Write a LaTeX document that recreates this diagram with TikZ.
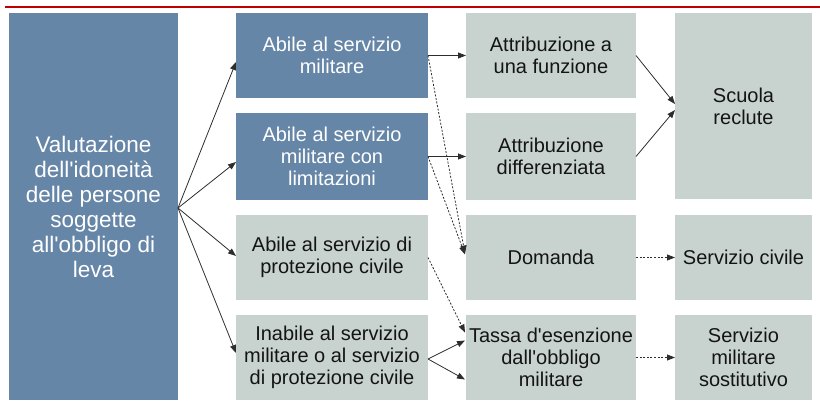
\documentclass[tikz,border=0pt]{standalone}
\usepackage{fontspec}
\setmainfont{Liberation Sans}[Ligatures=TeXOff]
\usetikzlibrary{arrows.meta,calc}
\definecolor{boxblue}{RGB}{102,134,168}
\definecolor{boxgray}{RGB}{200,211,207}
\definecolor{redline}{RGB}{192,0,0}
\definecolor{linegray}{RGB}{45,45,45}
\begin{document}
\begin{tikzpicture}[x=1pt,y=-1pt,
  basebox/.style={rectangle,inner sep=0pt,outer sep=0pt,align=center,
    font=\fontsize{20}{22}\selectfont},
  bluebox/.style={basebox,fill=boxblue,text=white},
  graybox/.style={basebox,fill=boxgray,text=black!92},
  conn/.style={draw=linegray,line width=0.8pt,-{Triangle[length=8pt,width=6pt]}},
  dconn/.style={conn,dash pattern=on 2pt off 1.6pt}
]
\useasboundingbox (0,0) rectangle (820,407);
\draw[redline,line width=2.2pt] (5,7) -- (820,7);

% column 1
\node[bluebox,minimum width=169pt,minimum height=387pt,
  font=\fontsize{22.5}{25}\selectfont] (L) at (93.5,206.5)
  {Valutazione\\dell'idoneità\\delle persone\\soggette\\all'obbligo di\\leva};

% column 2
\node[bluebox,minimum width=192pt,minimum height=85pt] (A1) at (332,55.5)
  {Abile al servizio\\militare};
\node[bluebox,minimum width=192pt,minimum height=87pt] (A2) at (332,156.5)
  {Abile al servizio\\militare con\\limitazioni};
\node[graybox,minimum width=192pt,minimum height=85pt] (A3) at (332,257.5)
  {Abile al servizio di\\protezione civile};
\node[graybox,minimum width=192pt,minimum height=85pt] (A4) at (332,357.5)
  {Inabile al servizio\\militare o al servizio\\di protezione civile};

% column 3
\node[graybox,minimum width=170pt,minimum height=85pt] (B1) at (551,55.5)
  {Attribuzione a\\una funzione};
\node[graybox,minimum width=170pt,minimum height=87pt] (B2) at (551,156.5)
  {Attribuzione\\differenziata};
\node[graybox,minimum width=170pt,minimum height=85pt] (B3) at (551,257.5)
  {Domanda};
\node[graybox,minimum width=170pt,minimum height=85pt] (B4) at (551,357.5)
  {Tassa d'esenzione\\dall'obbligo\\militare};

% column 4
\node[graybox,minimum width=137pt,minimum height=186pt] (C1) at (743.5,106)
  {Scuola\\reclute};
\node[graybox,minimum width=137pt,minimum height=85pt] (C3) at (743.5,257.5)
  {Servizio civile};
\node[graybox,minimum width=137pt,minimum height=85pt] (C4) at (743.5,357.5)
  {Servizio\\militare\\sostitutivo};

% connectors from column 1
\coordinate (Lo) at ($(L.east)+(0,1.5)$);
\draw[conn] (Lo) -- ($(A1.west)+(0,6.5)$);
\draw[conn] (Lo) -- ($(A2.west)+(0,5.5)$);
\draw[conn] (Lo) -- ($(A3.west)+(0,-1.5)$);
\draw[conn] (Lo) -- ($(A4.west)+(0,-4.5)$);

% column 2 to column 3
\draw[conn] (A1.east) -- (B1.west);
\draw[conn] (A2.east) -- (B2.west);
\draw[dconn] (A1.east) -- ($(B3.west)+(-1,-4)$);
\draw[dconn] (A2.east) -- ($(B3.west)+(-1,-3)$);
\draw[dconn] (A3.east) -- ($(B4.west)+(-1,-25)$);
\draw[conn] ($(A4.east)+(0,1.5)$) -- ($(B4.west)+(-1,-17)$);
\draw[conn] ($(A4.east)+(0,1.5)$) -- ($(B4.west)+(-1,22)$);

% column 3 to column 4
\draw[conn] (B1.east) -- ($(C1.west)+(0,-2)$);
\draw[conn] (B2.east) -- ($(C1.west)+(0,4)$);
\draw[dconn] (B3.east) -- (C3.west);
\draw[dconn] (B4.east) -- (C4.west);
\end{tikzpicture}
\end{document}
